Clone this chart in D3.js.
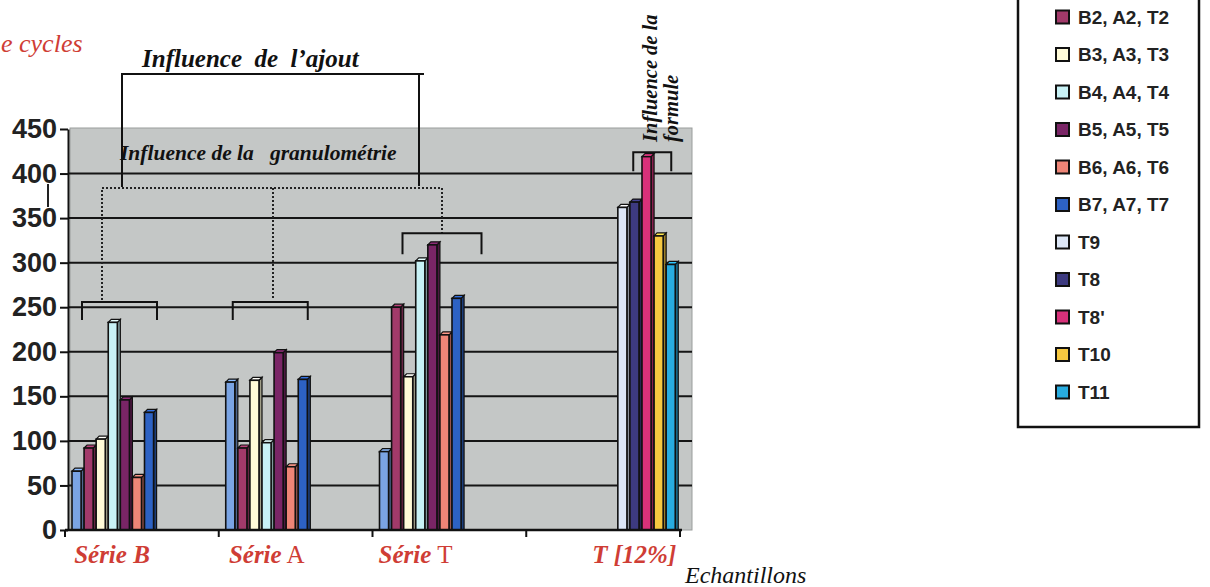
<!DOCTYPE html>
<html><head><meta charset="utf-8">
<script src="https://cdn.jsdelivr.net/npm/d3@7"></script>
<style>body{margin:0;background:#fff} text{white-space:pre}</style>
</head><body><svg id="c" width="1210" height="587"></svg>
<script>
// ---------- DATA ----------
const categories = ["Série B", "Série A", "Série T", "T [12%]"];
const seriesNames = ["B1, A1, T1", "B2, A2, T2", "B3, A3, T3", "B4, A4, T4", "B5, A5, T5",
  "B6, A6, T6", "B7, A7, T7", "T9", "T8", "T8'", "T10", "T11"];
const seriesColors = ["#7aa4e4", "#a23a6a", "#fffbd8", "#c8f2f6", "#7a2566", "#ee8577",
  "#2d62c4", "#dde7f7", "#3d3a80", "#d8317a", "#f6c840", "#28ace0"];
// values per series, in category order (B, A, T, T[12%])
const s1 = [66, 166, 88, 0];
const s2 = [92, 92, 250, 0];
const s3 = [102, 168, 172, 0];
const s4 = [233, 98, 302, 0];
const s5 = [146, 199, 320, 0];
const s6 = [59, 71, 219, 0];
const s7 = [132, 169, 260, 0];
const sT9 = [0, 0, 0, 362];
const sT8 = [0, 0, 0, 368];
const sT8p = [0, 0, 0, 419];
const sT10 = [0, 0, 0, 330];
const sT11 = [0, 0, 0, 298];
const seriesValues = [s1, s2, s3, s4, s5, s6, s7, sT9, sT8, sT8p, sT10, sT11];
const yTicks = [0, 50, 100, 150, 200, 250, 300, 350, 400, 450];
// legend entries visible in the (cropped) reference
const legendNames = seriesNames.slice(1);
const legendColors = seriesColors.slice(1);

// ---------- LAYOUT ----------
const svg = d3.select("#c");
const serif = "'Liberation Serif','Times New Roman',serif";
const sans = "'Liberation Sans',Arial,sans-serif";
const red = "#cf3d35";
const plotL = 68, plotR = 692, plotT = 128, plotB = 530;

const y = d3.scaleLinear().domain([0, 450]).range([530, 129]);
const x0 = d3.scaleBand().domain(categories).range([65, 680]).padding(0);
const x1 = d3.scaleBand().domain(seriesNames).range([7, 152]).padding(0);

// plot background
svg.append("rect").attr("x", plotL + 2).attr("y", plotT).attr("width", plotR - plotL - 2)
  .attr("height", plotB - plotT).attr("fill", "#c4c7c6").attr("stroke", "#9a9d9c").attr("stroke-width", 1);

// gridlines
svg.append("g").selectAll("line").data(yTicks.filter(d => d > 0 && d < 450)).join("line")
  .attr("x1", plotL).attr("x2", plotR).attr("y1", d => y(d)).attr("y2", d => y(d))
  .attr("stroke", "#151515").attr("stroke-width", 2);

// bars
const depth = 3;
const barData = [];
seriesNames.forEach((s, i) => categories.forEach((c, j) => {
  const v = seriesValues[i][j];
  if (v > 0) barData.push({s, c, v, color: seriesColors[i]});
}));
const bars = svg.append("g").selectAll("g").data(barData).join("g");
bars.each(function(d) {
  const g = d3.select(this);
  const x = x0(d.c) + x1(d.s), w = x1.bandwidth() - depth, yt = y(d.v), yb = y(0);
  g.append("polygon")
    .attr("points", [[x + w, yt], [x + w + depth, yt - depth], [x + w + depth, yb], [x + w, yb]].join(" "))
    .attr("fill", d3.color(d.color).darker(1.3)).attr("stroke", "#111").attr("stroke-width", 1.2);
  g.append("polygon")
    .attr("points", [[x, yt], [x + depth, yt - depth], [x + w + depth, yt - depth], [x + w, yt]].join(" "))
    .attr("fill", d3.color(d.color).brighter(0.4)).attr("stroke", "#111").attr("stroke-width", 1.2);
  g.append("rect").attr("x", x).attr("y", yt).attr("width", w).attr("height", yb - yt)
    .attr("fill", d.color).attr("stroke", "#111").attr("stroke-width", 1.6);
});

// y axis
const yAxis = svg.append("g").attr("transform", `translate(${plotL},0)`)
  .call(d3.axisLeft(y).tickValues(yTicks).tickSize(8).tickSizeOuter(0).tickPadding(3));
yAxis.select(".domain").attr("stroke", "#111").attr("stroke-width", 2);
yAxis.selectAll(".tick line").attr("stroke", "#111").attr("stroke-width", 2);
yAxis.selectAll(".tick text").attr("font-family", sans).attr("font-weight", "bold")
  .attr("font-size", 27).attr("fill", "#222");
svg.append("line").attr("x1", 48).attr("x2", 48).attr("y1", 184).attr("y2", 207)
  .attr("stroke", "#222").attr("stroke-width", 2);

// x axis
const xg = svg.append("g");
xg.append("line").attr("x1", 65).attr("x2", 682).attr("y1", y(0)).attr("y2", y(0))
  .attr("stroke", "#111").attr("stroke-width", 2.5);
const bounds = categories.map(c => x0(c)).concat([x0.range()[1]]);
xg.selectAll("line.t").data(bounds).join("line").attr("class", "t")
  .attr("x1", d => d).attr("x2", d => d).attr("y1", y(0)).attr("y2", y(0) + 7)
  .attr("stroke", "#111").attr("stroke-width", 2);

// x labels
const labelOffsets = [47, 48, 43, 108];
const labelParts = [[["Série B", true]], [["Série", true], [" A", false]], [["Série", true], [" T", false]], [["T [12%]", true]]];
categories.forEach((c, j) => {
  const t = svg.append("text").attr("x", x0(c) + labelOffsets[j]).attr("y", 563)
    .attr("text-anchor", "middle").attr("font-family", serif).attr("font-size", 25).attr("fill", red);
  labelParts[j].forEach(([txt, bi]) => t.append("tspan").text(txt)
    .attr("font-weight", bi ? "bold" : "normal").attr("font-style", bi ? "italic" : "normal"));
});
svg.append("text").attr("x", 685).attr("y", 583).attr("font-family", serif).attr("font-style", "italic")
  .attr("font-size", 24).attr("fill", "#111").text("Echantillons");
svg.append("text").attr("x", 1).attr("y", 52).attr("font-family", serif)
  .attr("font-style", "italic").attr("font-size", 26).attr("fill", red).text("e cycles");

// annotations
const ann = svg.append("g").attr("fill", "none").attr("stroke", "#111").attr("stroke-width", 2);
ann.append("path").attr("d", "M122,187 V74 H424 M419,74 V186");
ann.append("path").attr("d", "M102,300 V188 H442 V234 M273,188 V300")
  .attr("stroke-dasharray", "2,2").attr("stroke", "#222");
function bracket(xa, xb, v, legs) {
  ann.append("path").attr("d", `M${xa},${y(v) + legs} V${y(v)} H${xb} V${y(v) + legs}`);
}
bracket(x0("Série B") + 17, x0("Série B") + 92, 256, 18);
bracket(x0("Série A") + 14, x0("Série A") + 89, 256, 18);
bracket(x0("Série T") + 30, x0("Série T") + 109, 333, 21);
bracket(x0("T [12%]") + 107, x0("T [12%]") + 145, 424, 19);

svg.append("text").attr("x", 142).attr("y", 67).attr("font-family", serif).attr("font-weight", "bold")
  .attr("font-style", "italic").attr("font-size", 25).attr("fill", "#111").text("Influence  de  l’ajout");
svg.append("text").attr("x", 120).attr("y", 160).attr("font-family", serif).attr("font-weight", "bold")
  .attr("font-style", "italic").attr("font-size", 21.5).attr("fill", "#111").text("Influence de la   granulométrie");
[["Influence de la", 657], ["formule", 678]].forEach(([t, bx]) =>
  svg.append("text").attr("transform", `translate(${bx},142) rotate(-90)`).attr("font-family", serif)
    .attr("font-weight", "bold").attr("font-style", "italic").attr("font-size", 20.5).attr("fill", "#111").text(t));

// legend
const lg = svg.append("g");
lg.append("rect").attr("x", 1018).attr("y", -60).attr("width", 181).attr("height", 487)
  .attr("fill", "#fff").attr("stroke", "#111").attr("stroke-width", 2.5);
const items = lg.selectAll("g").data(legendNames).join("g")
  .attr("transform", (d, i) => `translate(1056,${17 + i * 37.5})`);
items.append("rect").attr("x", 0).attr("y", -6.5).attr("width", 13).attr("height", 13)
  .attr("fill", (d, i) => legendColors[i]).attr("stroke", "#111").attr("stroke-width", 2);
items.append("text").attr("x", 22).attr("dy", "0.36em").attr("font-family", sans).attr("font-weight", "bold")
  .attr("font-size", 19).attr("fill", "#222").text(d => d);
</script></body></html>
